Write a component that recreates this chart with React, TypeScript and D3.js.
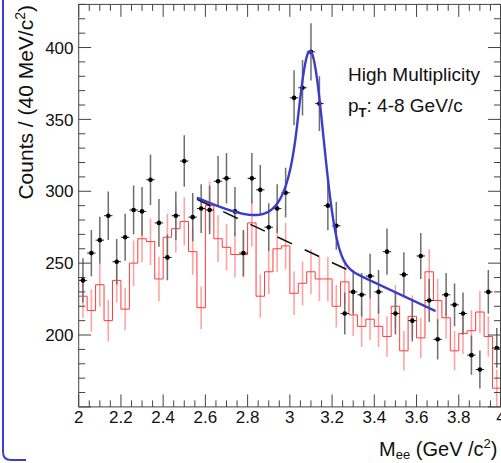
import React from "react";
import * as d3 from "d3";

// Dielectron invariant mass, 40 MeV/c^2 bins from 2 to 4 GeV/c^2
const BIN_LOW = 2.0;
const BIN_WIDTH = 0.04;
const binCenters = d3.range(50).map((i) => BIN_LOW + BIN_WIDTH * (i + 0.5));

// Unlike-sign pair counts (black points)
const unlikeSign = [
  238, 257, 266, 283, 251, 268, 287, 286, 308, 278,
  254, 283, 321, 282, 288, 287, 307, 309, 286, 257,
  309, 301, 275, 288, 299, 365, 372, 397, 361, 290,
  276, 215, 230, 228, 241, 230, 258, 215, 242, 210,
  255, 224, 197, 228, 221, 215, 186, 176, 230, 191,
];

// Like-sign background counts (red histogram)
const likeSign = [
  227, 217, 235, 210, 238, 218, 250, 267, 265, 239,
  268, 274, 279, 258, 219, 290, 267, 261, 256, 256,
  278, 227, 244, 260, 262, 229, 236, 244, 239, 239,
  220, 237, 214, 206, 211, 206, 199, 220, 189, 213,
  198, 244, 224, 212, 189, 201, 203, 216, 199, 163,
];

// Fit: Crystal Ball signal on a linear residual background
const fitRange = [2.56, 3.69];
const bkgRange = [2.56, 3.3];
const bkgAt256 = 294.4;
const bkgSlope = -68.8;
const cbYield = 140;
const cbMean = 3.097;
const cbSigma = 0.062;
const cbAlpha = 1.0;
const cbN = 4;

const xTickLabels = ["2", "2.2", "2.4", "2.6", "2.8", "3", "3.2", "3.4", "3.6", "3.8", "4"];
const yTickLabels = ["200", "250", "300", "350", "400"];

const W = 501;
const H = 463;
const FONT = "'Liberation Sans', Arial, Helvetica, sans-serif";

const x = d3.scaleLinear().domain([2, 4]).range([78.7, 501]);
const y = d3.scaleLinear().domain([150, 430]).range([406.9, 4.4]);

function background(m: number) {
  return bkgAt256 + bkgSlope * (m - 2.56);
}
function crystalBall(m: number) {
  const t = (m - cbMean) / cbSigma;
  if (t > -cbAlpha) return Math.exp(-0.5 * t * t);
  const A = Math.pow(cbN / cbAlpha, cbN) * Math.exp(-0.5 * cbAlpha * cbAlpha);
  const B = cbN / cbAlpha - cbAlpha;
  return A * Math.pow(B - t, -cbN);
}
function fitTotal(m: number) {
  return background(m) + cbYield * crystalBall(m);
}

export default function App() {
  const left = x(2);
  const right = 500.5;
  const top = y(430);
  const bottom = y(150);

  const xMajor = d3.range(0, 11).map((i) => 2 + 0.2 * i);
  const xMinor = d3.range(0, 41).map((i) => 2 + 0.05 * i);
  const yMajor = yTickLabels.map(Number);
  const yMinor = d3.range(150, 431, 10);

  // red step outline
  const stepPts: [number, number][] = [];
  likeSign.forEach((v, i) => {
    const lo = BIN_LOW + i * BIN_WIDTH;
    stepPts.push([x(lo), y(v)]);
    stepPts.push([x(lo + BIN_WIDTH), y(v)]);
  });
  const stepPath = d3.line()(stepPts) || "";

  const fitSamples = d3.range(fitRange[0], fitRange[1] + 1e-9, 0.002);
  const fitPath =
    d3
      .line<number>()
      .x((m) => x(m))
      .y((m) => y(fitTotal(m)))
      .curve(d3.curveMonotoneX)(fitSamples) || "";
  const bkgPath =
    d3
      .line<number>()
      .x((m) => x(m))
      .y((m) => y(background(m)))(bkgRange) || "";

  const halfBinPx = (x(BIN_WIDTH) - x(0)) / 2;

  return (
    <svg
      width={W}
      height={H}
      style={{ position: "absolute", left: 0, top: 0, background: "#fff" }}
      fontFamily={FONT}
    >
      <rect x={0} y={0} width={W} height={H} fill="#fff" />
      <defs>
        <clipPath id="plotClip">
          <rect x={left} y={top} width={right - left + 1} height={bottom - top} />
        </clipPath>
      </defs>

      {/* slide frame on the left */}
      <path
        d={`M3,0 L3,452 Q3,460 11,460 L26,460`}
        fill="none"
        stroke="#3d3dd4"
        strokeWidth={2}
      />

      <g clipPath="url(#plotClip)">
        {/* like-sign histogram */}
        <g>
          {likeSign.map((v, i) => {
            const e = Math.sqrt(v);
            return (
              <line
                key={"re" + i}
                x1={x(binCenters[i])}
                x2={x(binCenters[i])}
                y1={y(v - e)}
                y2={y(v + e)}
                stroke="#ff5a5a"
                strokeOpacity={0.55}
                strokeWidth={1.6}
              />
            );
          })}
          <path d={stepPath} fill="none" stroke="#ff3b3b" strokeWidth={1} />
        </g>

        {/* unlike-sign points */}
        <g>
          {unlikeSign.map((v, i) => {
            const e = Math.sqrt(v);
            const cx = x(binCenters[i]);
            return (
              <g key={"b" + i}>
                <line x1={cx} x2={cx} y1={y(v - e)} y2={y(v + e)} stroke="#6e6e6e" strokeWidth={1.5} />
                <line
                  x1={cx - halfBinPx}
                  x2={cx + halfBinPx}
                  y1={y(v)}
                  y2={y(v)}
                  stroke="#222"
                  strokeWidth={1}
                />
                <circle cx={cx} cy={y(v)} r={2.3} fill="#000" />
              </g>
            );
          })}
        </g>

        {/* residual background */}
        <path
          d={bkgPath}
          fill="none"
          stroke="#111"
          strokeWidth={1.6}
          strokeDasharray="16 14"
          strokeDashoffset={1}
        />
        {/* signal + background fit */}
        <path d={fitPath} fill="none" stroke="#3c3ccc" strokeWidth={2.4} />
      </g>

      {/* frame */}
      <rect
        x={left}
        y={top}
        width={right - left}
        height={bottom - top}
        fill="none"
        stroke="#444"
        strokeWidth={1}
      />

      {/* x ticks, bottom and top; y ticks, left and right */}
      <g stroke="#444" strokeWidth={1}>
        {xMinor.map((m, i) => {
          const isMajor = i % 4 === 0;
          const len = isMajor ? 12.5 : 6.5;
          return (
            <g key={"xt" + i}>
              <line x1={x(m)} x2={x(m)} y1={bottom} y2={bottom - len} />
              <line x1={x(m)} x2={x(m)} y1={top} y2={top + len} />
            </g>
          );
        })}
        {yMinor.map((v, i) => {
          const isMajor = v % 50 === 0;
          const len = isMajor ? 12.5 : 6.5;
          return (
            <g key={"yt" + i}>
              <line x1={left} x2={left + len} y1={y(v)} y2={y(v)} />
              <line x1={right} x2={right - len} y1={y(v)} y2={y(v)} />
            </g>
          );
        })}
      </g>

      {/* tick labels */}
      <g fontSize={17} fill="#111">
        {xMajor.map((m, i) => (
          <text key={"xl" + i} x={x(m)} y={422.5} textAnchor="middle">
            {xTickLabels[i]}
          </text>
        ))}
        {yMajor.map((v, i) => (
          <text key={"yl" + i} x={73.5} y={y(v)} dy="0.36em" textAnchor="end">
            {yTickLabels[i]}
          </text>
        ))}
      </g>

      {/* axis titles */}
      <text
        transform="translate(33,5) rotate(-90)"
        textAnchor="end"
        fontSize={21}
        fill="#111"
      >
        Counts / (40 MeV/c
        <tspan fontSize={14} dy={-8}>2</tspan>
        <tspan dy={8}>)</tspan>
      </text>
      <text x={497.5} y={455.5} fontSize={20} fill="#111" textAnchor="end">
        M
        <tspan fontSize={13} dy={3}>ee</tspan>
        <tspan dy={-3}> (GeV /c</tspan>
        <tspan fontSize={13} dy={-8}>2</tspan>
        <tspan dy={8}>)</tspan>
      </text>

      {/* event selection labels */}
      <text x={348} y={81} fontSize={19} fill="#111">
        High Multiplicity
      </text>
      <text x={348} y={112} fontSize={19} fill="#111">
        p
        <tspan fontSize={13} dy={5} fontWeight="bold">T</tspan>
        <tspan dy={-5}>: 4-8 GeV/c</tspan>
      </text>
    </svg>
  );
}
